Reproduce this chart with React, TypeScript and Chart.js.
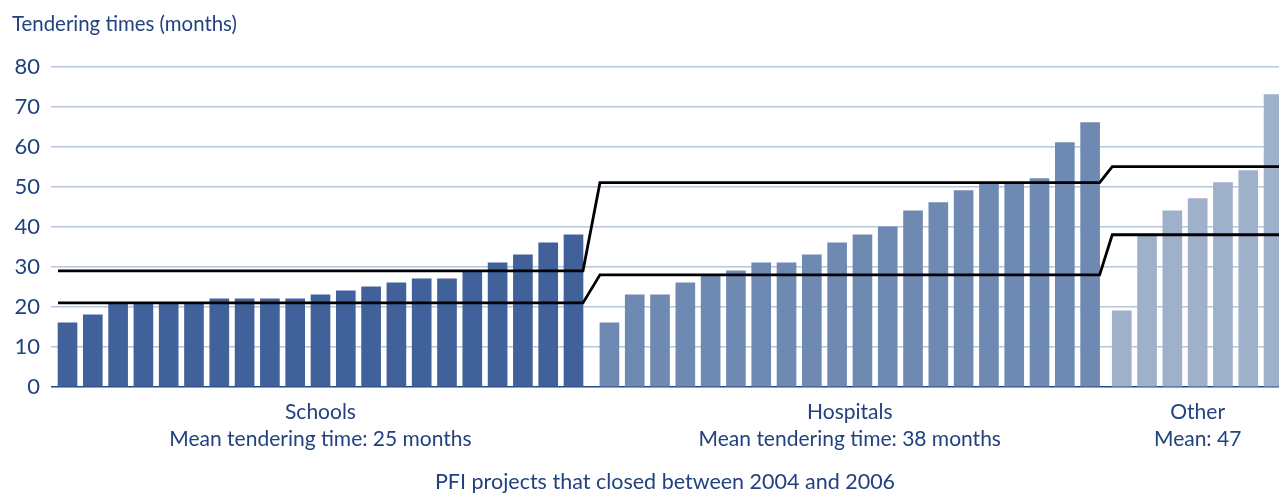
import React, { useEffect, useRef } from 'react';
import { Chart, registerables } from 'chart.js';

Chart.register(...registerables);

// ---- Data ----
const GROUP_NAMES = ['Schools', 'Hospitals', 'Other'];
const GROUP_SUBTITLES = [
  'Mean tendering time: 25 months',
  'Mean tendering time: 38 months',
  'Mean: 47',
];
const SCHOOLS = [16, 18, 21, 21, 21, 21, 22, 22, 22, 22, 23, 24, 25, 26, 27, 27, 29, 31, 33, 36, 38];
const HOSPITALS = [16, 23, 23, 26, 28, 29, 31, 31, 33, 36, 38, 40, 44, 46, 49, 51, 51, 52, 61, 66];
const OTHER = [19, 38, 44, 47, 51, 54, 73];
const UPPER_BAND = [29, 51, 55];
const LOWER_BAND = [21, 28, 38];
const Y_TICKS = [0, 10, 20, 30, 40, 50, 60, 70, 80];
const Y_TITLE = 'Tendering times (months)';
const X_TITLE = 'PFI projects that closed between 2004 and 2006';

// ---- Layout (in bar-slot units) ----
const GROUP_START = [0, 21.42, 41.67];
const X_MIN = -0.652;
const X_MAX = 47.885;
const HALF_BAR = 0.375;

const NAVY = '#22427f';
const BAR_COLORS = ['#41619a', '#6f8ab2', '#9fb0cb'];
const FONT = 'Lato, "Noto Sans", sans-serif';

const GROUPS = [SCHOOLS, HOSPITALS, OTHER];
const GROUP_CENTERS = GROUPS.map((g, i) => GROUP_START[i] + (g.length - 1) / 2);

function bandPoints(values: number[]) {
  const pts: { x: number; y: number }[] = [];
  GROUPS.forEach((g, i) => {
    const start = GROUP_START[i] - HALF_BAR;
    const end = i === GROUPS.length - 1 ? X_MAX : GROUP_START[i] + g.length - 1 + HALF_BAR;
    pts.push({ x: start, y: values[i] });
    pts.push({ x: end, y: values[i] });
  });
  return pts;
}

export default function App() {
  const ref = useRef<HTMLCanvasElement | null>(null);

  useEffect(() => {
    if (!ref.current) return;
    Chart.defaults.font.family = FONT;
    const barSets = GROUPS.map((g, gi) => ({
      type: 'bar' as const,
      label: GROUP_NAMES[gi],
      data: g.map((v, i) => ({ x: GROUP_START[gi] + i, y: v })),
      backgroundColor: BAR_COLORS[gi],
      borderWidth: 0,
      barThickness: 19,
      grouped: false,
    }));
    const lineSets = [UPPER_BAND, LOWER_BAND].map((b, i) => ({
      type: 'line' as const,
      label: i === 0 ? 'upper' : 'lower',
      data: bandPoints(b),
      borderColor: '#000000',
      borderWidth: 2.8,
      pointRadius: 0,
      fill: false,
      tension: 0,
      order: -1,
    }));

    const chart = new Chart(ref.current, {
      type: 'bar',
      data: { datasets: [...barSets, ...lineSets] as any },
      options: {
        animation: false,
        responsive: false,
        layout: { padding: { left: 12, right: 0, top: 0, bottom: 0 } },
        plugins: {
          legend: { display: false },
          tooltip: { enabled: false },
          title: {
            display: true,
            text: Y_TITLE,
            align: 'start',
            color: NAVY,
            font: { size: 20.4, weight: 'normal', lineHeight: 1.2 },
            padding: { top: 12, bottom: 30 },
          },
        },
        scales: {
          x: {
            type: 'linear',
            min: X_MIN,
            max: X_MAX,
            offset: false,
            grid: { display: false, drawTicks: false },
            border: { display: false },
            afterBuildTicks: (s: any) => {
              s.ticks = GROUP_CENTERS.map((v) => ({ value: v }));
            },
            afterFit: (s: any) => {
              s.height = 107;
            },
            ticks: {
              autoSkip: false,
              maxRotation: 0,
              minRotation: 0,
              padding: 11,
              color: NAVY,
              font: { size: 21, lineHeight: 1.32 },
              callback: (_v: any, i: number) => [GROUP_NAMES[i], GROUP_SUBTITLES[i]],
            },
            title: {
              display: true,
              text: X_TITLE,
              color: NAVY,
              font: { size: 21.5, lineHeight: 1 },
              padding: { top: 0, bottom: 1 },
            },
          },
          y: {
            min: Y_TICKS[0],
            max: Y_TICKS[Y_TICKS.length - 1],
            afterBuildTicks: (s: any) => {
              s.ticks = Y_TICKS.map((v) => ({ value: v }));
            },
            afterFit: (s: any) => {
              s.width = 39;
            },
            border: { display: false },
            grid: {
              drawTicks: false,
              color: (ctx: any) => (ctx.tick && ctx.tick.value === 0 ? '#24468a' : '#b8c5db'),
              lineWidth: 1.5,
            },
            ticks: { padding: 11, color: NAVY, font: { size: 22 } },
          },
        },
      } as any,
    });
    return () => chart.destroy();
  }, []);

  return (
    <div style={{ position: 'absolute', left: 0, top: 0, width: 1279, height: 494, background: '#fff' }}>
      <canvas ref={ref} width={1279} height={494} style={{ display: 'block' }} />
    </div>
  );
}
